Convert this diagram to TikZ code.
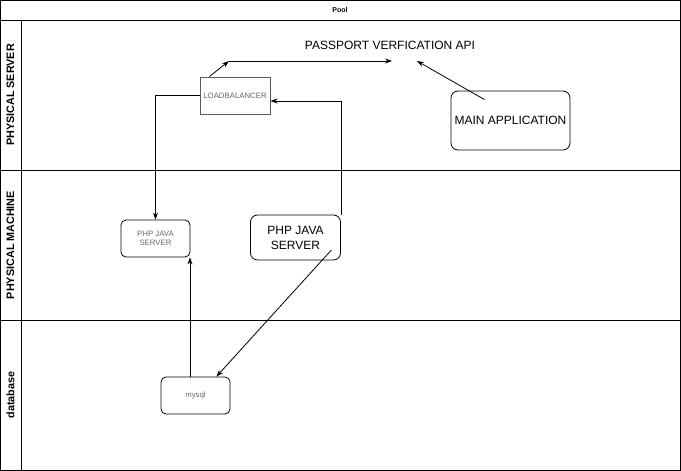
\documentclass[tikz,border=0pt]{standalone}
\usepackage{fontspec}
\setmainfont{Liberation Sans}
\usetikzlibrary{arrows.meta}
\begin{document}
\begin{tikzpicture}[x=1pt,y=-1pt,
  lanebox/.style={draw,line width=0.8pt},
  lanelabel/.style={rotate=90,font=\bfseries\fontsize{10.8}{12}\selectfont},
  smallbox/.style={draw,rounded corners=5pt,line width=0.8pt,minimum width=69pt,minimum height=37pt,align=center,text=black!60,font=\fontsize{7.8}{9.5}\selectfont,inner sep=0pt},
  bigbox/.style={draw,rounded corners=7pt,line width=0.8pt,align=center,font=\fontsize{12}{15}\selectfont,inner sep=0pt},
  flow/.style={-{Stealth[length=7pt,width=5pt]},line width=0.8pt}]
\useasboundingbox (0,0) rectangle (681,471);
% pool frame and lanes
\draw[lanebox] (0.5,0.5) rectangle (680.5,470.5);
\draw[lanebox] (0.5,20) -- (680.5,20);
\draw[lanebox] (21,20) -- (21,470.5);
\draw[lanebox] (0.5,170) -- (680.5,170);
\draw[lanebox] (0.5,320) -- (680.5,320);
\node[font=\bfseries\fontsize{7}{9}\selectfont] (pool) at (340,10) {Pool};
\node[lanelabel] (l1) at (10.5,95) {PHYSICAL SERVER};
\node[lanelabel] (l2) at (10.5,245) {PHYSICAL MACHINE};
\node[lanelabel] (l3) at (10.5,395) {database};
% nodes
\node[draw=black!65,line width=1pt,minimum width=70pt,minimum height=37pt,inner sep=0pt,text=black!60,font=\fontsize{7.8}{9.5}\selectfont] (lb) at (235,95.5) {LOADBALANCER};
\node[font=\fontsize{12}{15}\selectfont,inner sep=2pt] (api) at (390,45) {PASSPORT VERFICATION API};
\node[bigbox,minimum width=119pt,minimum height=59pt] (main) at (510.5,120.5) {MAIN APPLICATION};
\node[smallbox] (php1) at (155.5,238.5) {PHP JAVA\\SERVER};
\node[bigbox,minimum width=90pt,minimum height=45pt] (php2) at (295.5,237.5) {PHP JAVA\\SERVER};
\node[smallbox] (db) at (195.5,395.5) {mysql};
% connectors
\coordinate (bend) at (229,61);
\coordinate (apiin) at (392,61);
\coordinate (apiin2) at (417,61);
\coordinate (dbtop) at ([xshift=-5.5pt]db.north);
\draw[flow] ([xshift=10pt]lb.north west) -- (bend);
\draw[flow] (bend) -- (apiin);
\draw[flow] ([xshift=-26pt,yshift=-9pt]main.north) -- (apiin2);
\draw[flow] (php2.north east) |- ([yshift=-5.5pt]lb.east);
\draw[flow] ([yshift=0.5pt]lb.west) -| (php1.north);
\draw[flow] ([xshift=-9.5pt,yshift=-12.5pt]php2.east) -- ([xshift=-14pt]db.north east);
\draw[flow] (dbtop) -- (dbtop |- php1.south);
\end{tikzpicture}
\end{document}
